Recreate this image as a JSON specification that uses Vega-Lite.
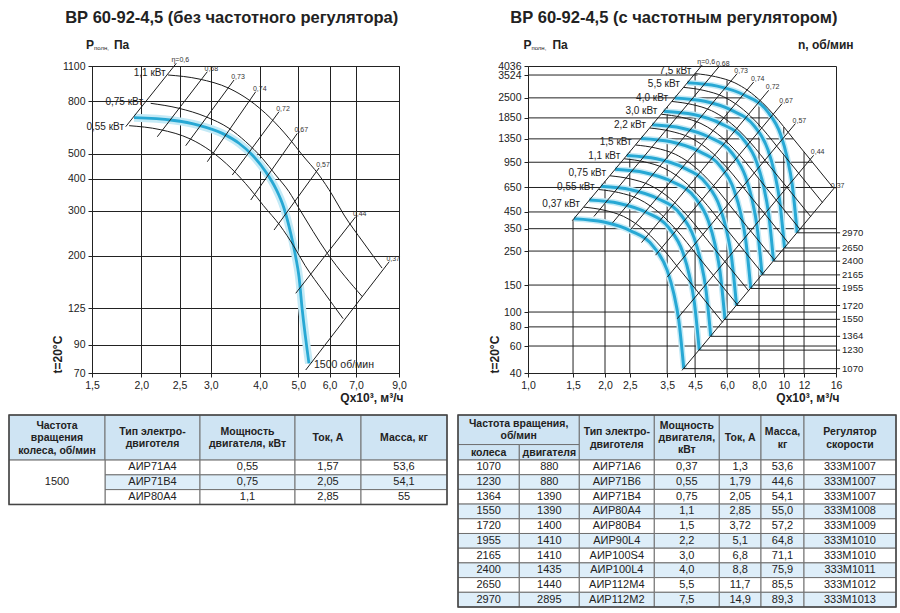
{
"$schema": "https://vega.github.io/schema/vega-lite/v6.json",
"background": "white",
"padding": {"left": 8, "top": 9, "right": 2, "bottom": 2},
"config": {
 "font": "Liberation Sans",
 "view": {"stroke": null},
 "text": {"color": "#222"},
 "axis": {"labelFont": "Liberation Sans", "labelFontSize": 10.5, "labelColor": "#222", "tickColor": "#222", "tickSize": 4, "domainColor": "#222", "gridColor": "#222", "gridOpacity": 1, "gridWidth": 1, "labelPadding": 3, "labelOverlap": false, "labelFlush": false, "labelBound": false, "titleFont": "Liberation Sans", "titleFontSize": 12, "titleFontWeight": "bold", "titleColor": "#222"}
},
"datasets": {
 "lblue": [{"Q":1.917,"P":691.7},{"Q":2.397,"P":676},{"Q":2.801,"P":646},{"Q":3.209,"P":601},{"Q":3.537,"P":550},{"Q":3.822,"P":495},{"Q":4.133,"P":426},{"Q":4.382,"P":367},{"Q":4.6,"P":307},{"Q":4.784,"P":245},{"Q":4.924,"P":198.7},{"Q":5.021,"P":166},{"Q":5.118,"P":123},{"Q":5.322,"P":76.3}],
 "larcs": [
  {"id":"1,1","Q":2.337,"P":1014.6},{"id":"1,1","Q":2.801,"P":978.9},{"id":"1,1","Q":3.337,"P":900.6},{"id":"1,1","Q":3.751,"P":810.7},{"id":"1,1","Q":4.257,"P":688},{"id":"1,1","Q":4.737,"P":575},{"id":"1,1","Q":5.119,"P":494.9},{"id":"1,1","Q":5.643,"P":413.6},{"id":"1,1","Q":6.099,"P":345.7},{"id":"1,1","Q":6.53,"P":288.9},{"id":"1,1","Q":7.296,"P":226.7},{"id":"1,1","Q":8.151,"P":179.5},
  {"id":"0,75","Q":2.113,"P":787},{"id":"0,75","Q":2.493,"P":752.5},{"id":"0,75","Q":2.913,"P":698},{"id":"0,75","Q":3.337,"P":628.9},{"id":"0,75","Q":3.679,"P":557.7},{"id":"0,75","Q":4.053,"P":480.5},{"id":"0,75","Q":4.383,"P":413.6},{"id":"0,75","Q":4.737,"P":356},{"id":"0,75","Q":5.021,"P":306.8},{"id":"0,75","Q":5.924,"P":204.8},{"id":"0,75","Q":7.267,"P":138.8},
  {"id":"0,55","Q":1.863,"P":644},{"id":"0,55","Q":2.232,"P":621.6},{"id":"0,55","Q":2.66,"P":571.9},{"id":"0,55","Q":2.99,"P":514.8},{"id":"0,55","Q":3.393,"P":436.9},{"id":"0,55","Q":3.775,"P":365.1},{"id":"0,55","Q":4.08,"P":314.3},{"id":"0,55","Q":4.497,"P":262.6},{"id":"0,55","Q":4.861,"P":219.5},{"id":"0,55","Q":5.204,"P":183.5},{"id":"0,55","Q":5.815,"P":144},{"id":"0,55","Q":6.496,"P":114}
 ],
 "leta": [
  {"Q":2.4535,"P":1127,"Q2":1.826,"P2":638,"t":"η=0,6"},
  {"Q":2.94,"P":1045,"Q2":2.196,"P2":583,"t":"0,68"},
  {"Q":3.436,"P":970,"Q2":2.592,"P2":538,"t":"0,73"},
  {"Q":3.9,"P":873.5,"Q2":2.94,"P2":466,"t":"0,74"},
  {"Q":4.468,"P":730,"Q2":3.402,"P2":413.6,"t":"0,72"},
  {"Q":4.972,"P":601,"Q2":3.788,"P2":330.5,"t":"0,67"},
  {"Q":5.643,"P":440.4,"Q2":4.34,"P2":252.5,"t":"0,57"},
  {"Q":6.99,"P":284.5,"Q2":4.926,"P2":143.1,"t":"0,44"},
  {"Q":8.5,"P":190,"Q2":5.222,"P2":71.9,"t":"0,37"}
 ],
 "lkw": [{"Q":2.306,"P":1030,"t":"1,1 кВт"},{"Q":2.02,"P":798.5,"t":"0,75 кВт"},{"Q":1.808,"P":638,"t":"0,55 кВт"}],
 "rblue": [
  {"n":1070,"Q":1.512,"P":407},{"n":1070,"Q":1.98,"P":387},{"n":1070,"Q":2.518,"P":339},{"n":1070,"Q":3.104,"P":265.6},{"n":1070,"Q":3.501,"P":187},{"n":1070,"Q":3.716,"P":131.8},{"n":1070,"Q":3.886,"P":88.2},{"n":1070,"Q":4.065,"P":42.7},
  {"n":1230,"Q":1.738,"P":537.8},{"n":1230,"Q":2.276,"P":511.4},{"n":1230,"Q":2.894,"P":448},{"n":1230,"Q":3.568,"P":351},{"n":1230,"Q":4.024,"P":247.1},{"n":1230,"Q":4.272,"P":174.2},{"n":1230,"Q":4.467,"P":116.5},{"n":1230,"Q":4.673,"P":56.4},
  {"n":1364,"Q":1.927,"P":661.4},{"n":1364,"Q":2.524,"P":628.9},{"n":1364,"Q":3.21,"P":550.9},{"n":1364,"Q":3.957,"P":431.6},{"n":1364,"Q":4.463,"P":303.9},{"n":1364,"Q":4.737,"P":214.2},{"n":1364,"Q":4.954,"P":143.3},{"n":1364,"Q":5.182,"P":69.4},
  {"n":1550,"Q":2.19,"P":854.1},{"n":1550,"Q":2.868,"P":812.1},{"n":1550,"Q":3.648,"P":711.4},{"n":1550,"Q":4.497,"P":557.4},{"n":1550,"Q":5.072,"P":392.4},{"n":1550,"Q":5.383,"P":276.6},{"n":1550,"Q":5.629,"P":185.1},{"n":1550,"Q":5.889,"P":89.6},
  {"n":1720,"Q":2.431,"P":1051.7},{"n":1720,"Q":3.183,"P":1000},{"n":1720,"Q":4.048,"P":876},{"n":1720,"Q":4.99,"P":686.3},{"n":1720,"Q":5.628,"P":483.2},{"n":1720,"Q":5.974,"P":340.6},{"n":1720,"Q":6.247,"P":227.9},{"n":1720,"Q":6.535,"P":110.3},
  {"n":1955,"Q":2.763,"P":1358.7},{"n":1955,"Q":3.618,"P":1291.9},{"n":1955,"Q":4.601,"P":1131.7},{"n":1955,"Q":5.671,"P":886.7},{"n":1955,"Q":6.397,"P":624.3},{"n":1955,"Q":6.789,"P":440},{"n":1955,"Q":7.1,"P":294.4},{"n":1955,"Q":7.427,"P":142.5},
  {"n":2165,"Q":3.059,"P":1666.3},{"n":2165,"Q":4.006,"P":1584.4},{"n":2165,"Q":5.095,"P":1387.9},{"n":2165,"Q":6.281,"P":1087.4},{"n":2165,"Q":7.084,"P":765.6},{"n":2165,"Q":7.519,"P":539.6},{"n":2165,"Q":7.863,"P":361.1},{"n":2165,"Q":8.225,"P":174.8},
  {"n":2400,"Q":3.391,"P":2047.7},{"n":2400,"Q":4.441,"P":1947},{"n":2400,"Q":5.648,"P":1705.5},{"n":2400,"Q":6.962,"P":1336.3},{"n":2400,"Q":7.853,"P":940.8},{"n":2400,"Q":8.335,"P":663.1},{"n":2400,"Q":8.716,"P":443.7},{"n":2400,"Q":9.118,"P":214.8},
  {"n":2650,"Q":3.745,"P":2496.4},{"n":2650,"Q":4.904,"P":2373.7},{"n":2650,"Q":6.236,"P":2079.3},{"n":2650,"Q":7.687,"P":1629.1},{"n":2650,"Q":8.671,"P":1147},{"n":2650,"Q":9.203,"P":808.4},{"n":2650,"Q":9.624,"P":541},{"n":2650,"Q":10.067,"P":261.9},
  {"n":2970,"Q":4.197,"P":3135.7},{"n":2970,"Q":5.496,"P":2981.6},{"n":2970,"Q":6.989,"P":2611.8},{"n":2970,"Q":8.616,"P":2046.3},{"n":2970,"Q":9.718,"P":1440.7},{"n":2970,"Q":10.314,"P":1015.5},{"n":2970,"Q":10.786,"P":679.5},{"n":2970,"Q":11.283,"P":329}
 ],
 "rarcs": [
  {"id":"7,5","Q":4.51,"P":3600},{"id":"7,5","Q":5.405,"P":3438},{"id":"7,5","Q":6.44,"P":3132},{"id":"7,5","Q":7.239,"P":2790},{"id":"7,5","Q":8.215,"P":2340},{"id":"7,5","Q":9.142,"P":1937},{"id":"7,5","Q":10.89,"P":1354},{"id":"7,5","Q":15.73,"P":636.8},
  {"id":"5,5","Q":4.067,"P":2927},{"id":"5,5","Q":4.874,"P":2795},{"id":"5,5","Q":5.807,"P":2546},{"id":"5,5","Q":6.528,"P":2268},{"id":"5,5","Q":7.408,"P":1903},{"id":"5,5","Q":8.244,"P":1575},{"id":"5,5","Q":9.821,"P":1101},{"id":"5,5","Q":14.185,"P":517.8},
  {"id":"4,0","Q":3.658,"P":2368},{"id":"4,0","Q":4.384,"P":2261},{"id":"4,0","Q":5.223,"P":2060},{"id":"4,0","Q":5.871,"P":1835},{"id":"4,0","Q":6.663,"P":1539},{"id":"4,0","Q":7.415,"P":1274},{"id":"4,0","Q":8.833,"P":890.4},{"id":"4,0","Q":12.758,"P":418.9},
  {"id":"3,0","Q":3.323,"P":1954},{"id":"3,0","Q":3.983,"P":1866},{"id":"3,0","Q":4.745,"P":1700},{"id":"3,0","Q":5.334,"P":1514},{"id":"3,0","Q":6.053,"P":1270},{"id":"3,0","Q":6.736,"P":1051},{"id":"3,0","Q":8.024,"P":734.7},{"id":"3,0","Q":11.59,"P":345.7},
  {"id":"2,2","Q":2.996,"P":1589},{"id":"2,2","Q":3.591,"P":1517},{"id":"2,2","Q":4.278,"P":1382},{"id":"2,2","Q":4.809,"P":1231},{"id":"2,2","Q":5.458,"P":1033},{"id":"2,2","Q":6.073,"P":854.9},{"id":"2,2","Q":7.234,"P":597.5},{"id":"2,2","Q":10.449,"P":281.1},
  {"id":"1,5","Q":2.637,"P":1231},{"id":"1,5","Q":3.16,"P":1176},{"id":"1,5","Q":3.765,"P":1071},{"id":"1,5","Q":4.233,"P":954},{"id":"1,5","Q":4.804,"P":800.2},{"id":"1,5","Q":5.345,"P":662.3},{"id":"1,5","Q":6.368,"P":462.9},{"id":"1,5","Q":9.197,"P":217.8},
  {"id":"1,1","Q":2.378,"P":1001},{"id":"1,1","Q":2.85,"P":956},{"id":"1,1","Q":3.396,"P":870.9},{"id":"1,1","Q":3.817,"P":775.8},{"id":"1,1","Q":4.332,"P":650.7},{"id":"1,1","Q":4.82,"P":538.5},{"id":"1,1","Q":5.742,"P":376.4},{"id":"1,1","Q":8.294,"P":177.1},
  {"id":"0,75","Q":2.093,"P":775},{"id":"0,75","Q":2.508,"P":740.1},{"id":"0,75","Q":2.989,"P":674.3},{"id":"0,75","Q":3.359,"P":600.6},{"id":"0,75","Q":3.813,"P":503.8},{"id":"0,75","Q":4.243,"P":417},{"id":"0,75","Q":5.054,"P":291.4},{"id":"0,75","Q":7.3,"P":137.1},
  {"id":"0,55","Q":1.888,"P":630.6},{"id":"0,55","Q":2.263,"P":602.2},{"id":"0,55","Q":2.696,"P":548.6},{"id":"0,55","Q":3.03,"P":488.7},{"id":"0,55","Q":3.439,"P":409.9},{"id":"0,55","Q":3.827,"P":339.3},{"id":"0,55","Q":4.559,"P":237.1},{"id":"0,55","Q":6.585,"P":111.6},
  {"id":"0,37","Q":1.654,"P":484},{"id":"0,37","Q":1.982,"P":462.2},{"id":"0,37","Q":2.362,"P":421.1},{"id":"0,37","Q":2.655,"P":375.1},{"id":"0,37","Q":3.013,"P":314.6},{"id":"0,37","Q":3.353,"P":260.4},{"id":"0,37","Q":3.994,"P":182},{"id":"0,37","Q":5.769,"P":85.6}
 ],
 "rkw": [{"Q":4.51,"P":3600,"t":"7,5 кВт"},{"Q":4.067,"P":2927,"t":"5,5 кВт"},{"Q":3.658,"P":2368,"t":"4,0 кВт"},{"Q":3.323,"P":1954,"t":"3,0 кВт"},{"Q":2.996,"P":1589,"t":"2,2 кВт"},{"Q":2.637,"P":1231,"t":"1,5 кВт"},{"Q":2.378,"P":1001,"t":"1,1 кВт"},{"Q":2.093,"P":775,"t":"0,75 кВт"},{"Q":1.888,"P":630.6,"t":"0,55 кВт"},{"Q":1.654,"P":484,"t":"0,37 кВт"}],
 "reta": [
  {"Q":4.797,"P":4096,"Q2":1.4906,"P2":395.5,"t":"η=0,6"},
  {"Q":5.568,"P":3976,"Q2":1.81,"P2":420.3,"t":"0,68"},
  {"Q":6.57,"P":3600,"Q2":2.1415,"P2":382.5,"t":"0,73"},
  {"Q":7.627,"P":3173,"Q2":2.5176,"P2":345.7,"t":"0,74"},
  {"Q":8.728,"P":2801,"Q2":2.779,"P2":284,"t":"0,72"},
  {"Q":9.847,"P":2293,"Q2":3.152,"P2":235,"t":"0,67"},
  {"Q":11.1,"P":1698,"Q2":3.501,"P2":168.9,"t":"0,57"},
  {"Q":13.08,"P":1054,"Q2":3.831,"P2":90.4,"t":"0,44"},
  {"Q":15.66,"P":637.6,"Q2":4.0,"P2":41.6,"t":"0,37"}
 ],
 "rgrid": [
  {"Q":1,"Q2":4.6,"P":3524,"P2":3524},{"Q":1,"Q2":7.83,"P":2500,"P2":2500},{"Q":1,"Q2":9.35,"P":1850,"P2":1850},{"Q":1,"Q2":10.91,"P":1350,"P2":1350},{"Q":1,"Q2":12.94,"P":950,"P2":950},{"Q":1,"Q2":16,"P":650,"P2":650},{"Q":1,"Q2":16,"P":450,"P2":450},{"Q":1,"Q2":16,"P":350,"P2":350},{"Q":1,"Q2":16,"P":250,"P2":250},{"Q":1,"Q2":16,"P":150,"P2":150},{"Q":1,"Q2":16,"P":100,"P2":100},{"Q":1,"Q2":16,"P":80,"P2":80},{"Q":1,"Q2":16,"P":60,"P2":60},
  {"Q":1.5,"Q2":1.5,"P":40,"P2":400},{"Q":2,"Q2":2,"P":40,"P2":712},{"Q":2.5,"Q2":2.5,"P":40,"P2":1112},{"Q":3.5,"Q2":3.5,"P":40,"P2":2180},{"Q":4.5,"Q2":4.5,"P":40,"P2":3604},{"Q":6,"Q2":6,"P":40,"P2":3253},{"Q":8,"Q2":8,"P":40,"P2":2428},{"Q":10,"Q2":10,"P":40,"P2":1612},{"Q":12,"Q2":12,"P":40,"P2":1110}
 ],
 "rn": [
  {"Q":16.6,"Q0":4.065,"P":42.7,"t":"1070"},{"Q":16.6,"Q0":4.673,"P":56.4,"t":"1230"},{"Q":16.6,"Q0":5.182,"P":69.4,"t":"1364"},{"Q":16.6,"Q0":5.889,"P":89.6,"t":"1550"},{"Q":16.6,"Q0":6.535,"P":110.3,"t":"1720"},{"Q":16.6,"Q0":7.427,"P":142.5,"t":"1955"},{"Q":16.6,"Q0":8.225,"P":174.8,"t":"2165"},{"Q":16.6,"Q0":9.118,"P":214.8,"t":"2400"},{"Q":16.6,"Q0":10.067,"P":261.9,"t":"2650"},{"Q":16.6,"Q0":11.283,"P":329,"t":"2970"}
 ],
 "ltcols": [{"c":"c0","x0":0,"x1":96,"xm":48},{"c":"c1","x0":96,"x1":191,"xm":143.5},{"c":"c2","x0":191,"x1":286,"xm":238.5},{"c":"c3","x0":286,"x1":352,"xm":319},{"c":"c4","x0":352,"x1":438,"xm":395}],
 "lthead": [
  {"c":"c0","r0":-3.05,"r1":0,"ym":-2.33,"t":"Частота\nвращения\nколеса, об/мин"},
  {"c":"c1","r0":-3.05,"r1":0,"ym":-1.9,"t":"Тип электро-\nдвиготеля"},
  {"c":"c2","r0":-3.05,"r1":0,"ym":-1.9,"t":"Мощность\nдвигателя, кВт"},
  {"c":"c3","r0":-3.05,"r1":0,"ym":-1.48,"t":"Ток, А"},
  {"c":"c4","r0":-3.05,"r1":0,"ym":-1.48,"t":"Масса, кг"}
 ],
 "ltmerged": [{"c":"c0","r0":0,"r1":3,"ym":1.5,"t":"1500"}],
 "ltrows": [
  {"r0":0,"r1":1,"ym":0.5,"k":"w","c1":"АИР71А4","c2":"0,55","c3":"1,57","c4":"53,6"},
  {"r0":1,"r1":2,"ym":1.5,"k":"b","c1":"АИР71В4","c2":"0,75","c3":"2,05","c4":"54,1"},
  {"r0":2,"r1":3,"ym":2.5,"k":"w","c1":"АИР80А4","c2":"1,1","c3":"2,85","c4":"55"}
 ],
 "rtcols": [{"c":"c0","x0":0,"x1":61.3,"xm":30.65},{"c":"c1","x0":61.3,"x1":121.3,"xm":91.3},{"c":"c01","x0":0,"x1":121.3,"xm":60.65},{"c":"c2","x0":121.3,"x1":196.3,"xm":158.8},{"c":"c3","x0":196.3,"x1":261.3,"xm":228.8},{"c":"c4","x0":261.3,"x1":303,"xm":282.15},{"c":"c5","x0":303,"x1":346,"xm":324.5},{"c":"c6","x0":346,"x1":438,"xm":392}],
 "rthead": [
  {"c":"c01","r0":-3.06,"r1":-1.05,"ym":-2.43,"t":"Частота вращения,\nоб/мин"},
  {"c":"c0","r0":-1.05,"r1":0,"ym":-0.5,"t":"колеса"},
  {"c":"c1","r0":-1.05,"r1":0,"ym":-0.5,"t":"двигателя"},
  {"c":"c2","r0":-3.06,"r1":0,"ym":-1.87,"t":"Тип электро-\nдвиготеля"},
  {"c":"c3","r0":-3.06,"r1":0,"ym":-2.33,"t":"Мощность\nдвигателя,\nкВт"},
  {"c":"c4","r0":-3.06,"r1":0,"ym":-1.5,"t":"Ток, А"},
  {"c":"c5","r0":-3.06,"r1":0,"ym":-1.88,"t":"Масса,\nкг"},
  {"c":"c6","r0":-3.06,"r1":0,"ym":-1.88,"t":"Регулятор\nскорости"}
 ],
 "rtrows": [
  {"r0":0,"r1":1,"ym":0.5,"k":"w","c0":"1070","c1":"880","c2":"АИР71А6","c3":"0,37","c4":"1,3","c5":"53,6","c6":"333М1007"},
  {"r0":1,"r1":2,"ym":1.5,"k":"b","c0":"1230","c1":"880","c2":"АИР71В6","c3":"0,55","c4":"1,79","c5":"44,6","c6":"333М1007"},
  {"r0":2,"r1":3,"ym":2.5,"k":"w","c0":"1364","c1":"1390","c2":"АИР71В4","c3":"0,75","c4":"2,05","c5":"54,1","c6":"333М1007"},
  {"r0":3,"r1":4,"ym":3.5,"k":"b","c0":"1550","c1":"1390","c2":"АИР80А4","c3":"1,1","c4":"2,85","c5":"55,0","c6":"333М1008"},
  {"r0":4,"r1":5,"ym":4.5,"k":"w","c0":"1720","c1":"1400","c2":"АИР80В4","c3":"1,5","c4":"3,72","c5":"57,2","c6":"333М1009"},
  {"r0":5,"r1":6,"ym":5.5,"k":"b","c0":"1955","c1":"1410","c2":"АИР90L4","c3":"2,2","c4":"5,1","c5":"64,8","c6":"333М1010"},
  {"r0":6,"r1":7,"ym":6.5,"k":"w","c0":"2165","c1":"1410","c2":"АИР100S4","c3":"3,0","c4":"6,8","c5":"71,1","c6":"333М1010"},
  {"r0":7,"r1":8,"ym":7.5,"k":"b","c0":"2400","c1":"1435","c2":"АИР100L4","c3":"4,0","c4":"8,8","c5":"75,9","c6":"333М1011"},
  {"r0":8,"r1":9,"ym":8.5,"k":"w","c0":"2650","c1":"1440","c2":"АИР112М4","c3":"5,5","c4":"11,7","c5":"85,5","c6":"333М1012"},
  {"r0":9,"r1":10,"ym":9.5,"k":"b","c0":"2970","c1":"2895","c2":"АИР112М2","c3":"7,5","c4":"14,9","c5":"89,3","c6":"333М1013"}
 ]
},
"bounds": "flush",
"columns": 2,
"spacing": {"row": 42, "column": 129},
"concat": [
  {
   "width": 307, "height": 307,
   "view": {"stroke": "#222", "strokeWidth": 1},
   "encoding": {
    "x": {"field": "Q", "type": "quantitative", "scale": {"type": "log", "domain": [1.5, 9], "nice": false},
     "axis": {"values": [1.5, 2, 2.5, 3, 4, 5, 6, 7, 9], "labelExpr": "replace(format(datum.value, '.1f'), '.', ',')", "grid": true, "title": "Qx10³, м³/ч", "titleX": 311, "titleY": 24, "titleAlign": "right", "titleBaseline": "middle"}},
    "y": {"field": "P", "type": "quantitative", "scale": {"type": "log", "domain": [70, 1100], "nice": false},
     "axis": {"values": [70, 90, 125, 200, 300, 400, 500, 800, 1100], "format": "d", "grid": true, "title": "t=20°C", "titleX": -35, "titleY": 307, "titleAngle": 270, "titleAlign": "left", "titleBaseline": "middle"}}
   },
   "layer": [
    {"data": {"name": "lblue"}, "mark": {"type": "line", "interpolate": "monotone", "color": "#c4eaf6", "strokeWidth": 8}},
    {"data": {"name": "lblue"}, "mark": {"type": "line", "interpolate": "monotone", "color": "#27a8d4", "strokeWidth": 2.8}},
    {"data": {"name": "larcs"}, "mark": {"type": "line", "interpolate": "monotone", "color": "#1c1c1c", "strokeWidth": 1}, "encoding": {"detail": {"field": "id", "type": "nominal"}}},
    {"data": {"name": "leta"}, "mark": {"type": "rule", "color": "#1c1c1c", "strokeWidth": 1}, "encoding": {"x2": {"field": "Q2"}, "y2": {"field": "P2"}}},
    {"data": {"name": "leta"}, "mark": {"type": "text", "fontSize": 7, "align": "center", "baseline": "bottom", "dx": 4, "color": "#333"}, "encoding": {"text": {"field": "t", "type": "nominal"}}},
    {"data": {"name": "lkw"}, "mark": {"type": "text", "fontSize": 10, "align": "right", "baseline": "middle"}, "encoding": {"text": {"field": "t", "type": "nominal"}}},
    {"data": {"values": [{"Q": 5.481, "P": 75.2, "t": "1500 об/мин"}]}, "mark": {"type": "text", "fontSize": 10.5, "align": "left", "baseline": "middle"}, "encoding": {"text": {"field": "t", "type": "nominal"}}},
    {"data": {"values": [{"Q": 3.39, "P": 1622, "t": "ВР 60-92-4,5 (без частотного регулятора)"}]}, "mark": {"type": "text", "fontSize": 16.5, "fontWeight": "bold", "align": "center", "baseline": "alphabetic"}, "encoding": {"text": {"field": "t", "type": "nominal"}}},
    {"data": {"values": [{"Q": 1.448, "P": 1328, "t": "P"}]}, "mark": {"type": "text", "fontSize": 12, "fontWeight": "bold", "align": "left", "baseline": "middle"}, "encoding": {"text": {"field": "t", "type": "nominal"}}},
    {"data": {"values": [{"Q": 1.448, "P": 1328, "t": "полн,"}]}, "mark": {"type": "text", "fontSize": 6, "align": "left", "baseline": "middle", "dx": 8, "dy": 3}, "encoding": {"text": {"field": "t", "type": "nominal"}}},
    {"data": {"values": [{"Q": 1.448, "P": 1328, "t": "Па"}]}, "mark": {"type": "text", "fontSize": 12, "fontWeight": "bold", "align": "left", "baseline": "middle", "dx": 28}, "encoding": {"text": {"field": "t", "type": "nominal"}}}
   ]
  },
  {
   "width": 308, "height": 307,
   "view": {"stroke": "#222", "strokeWidth": 1},
   "encoding": {
    "x": {"field": "Q", "type": "quantitative", "scale": {"type": "log", "domain": [1, 16], "nice": false},
     "axis": {"values": [1, 1.5, 2, 2.5, 3.5, 4.5, 6, 8, 10, 12, 16], "labelExpr": "datum.value >= 10 ? format(datum.value, 'd') : replace(format(datum.value, '.1f'), '.', ',')", "grid": false, "title": "Qx10³, м³/ч", "titleX": 311, "titleY": 24, "titleAlign": "right", "titleBaseline": "middle"}},
    "y": {"field": "P", "type": "quantitative", "scale": {"type": "log", "domain": [40, 4036], "nice": false},
     "axis": {"values": [40, 60, 80, 100, 150, 250, 350, 450, 650, 950, 1350, 1850, 2500, 3524, 4036], "format": "d", "grid": false, "title": "t=20°C", "titleX": -34, "titleY": 307, "titleAngle": 270, "titleAlign": "left", "titleBaseline": "middle"}}
   },
   "layer": [
    {"data": {"name": "rgrid"}, "mark": {"type": "rule", "color": "#222", "strokeWidth": 1}, "encoding": {"x2": {"field": "Q2"}, "y2": {"field": "P2"}}},
    {"data": {"name": "rblue"}, "mark": {"type": "line", "interpolate": "monotone", "color": "#c4eaf6", "strokeWidth": 6}, "encoding": {"detail": {"field": "n", "type": "nominal"}}},
    {"data": {"name": "rblue"}, "mark": {"type": "line", "interpolate": "monotone", "color": "#27a8d4", "strokeWidth": 3}, "encoding": {"detail": {"field": "n", "type": "nominal"}}},
    {"data": {"name": "rarcs"}, "mark": {"type": "line", "interpolate": "monotone", "color": "#1c1c1c", "strokeWidth": 1}, "encoding": {"detail": {"field": "id", "type": "nominal"}}},
    {"data": {"name": "reta"}, "mark": {"type": "rule", "color": "#1c1c1c", "strokeWidth": 1}, "encoding": {"x2": {"field": "Q2"}, "y2": {"field": "P2"}}},
    {"data": {"name": "rn"}, "mark": {"type": "rule", "color": "#222", "strokeWidth": 1}, "encoding": {"x2": {"field": "Q0"}}},
    {"data": {"name": "rn"}, "mark": {"type": "text", "fontSize": 9.5, "align": "left", "baseline": "middle", "dx": 2}, "encoding": {"text": {"field": "t", "type": "nominal"}}},
    {"data": {"name": "reta"}, "mark": {"type": "text", "fontSize": 7, "align": "center", "baseline": "bottom", "dx": 4, "color": "#333"}, "encoding": {"text": {"field": "t", "type": "nominal"}}},
    {"data": {"name": "rkw"}, "mark": {"type": "text", "fontSize": 10, "align": "right", "baseline": "middle", "dx": -4, "dy": -3}, "encoding": {"text": {"field": "t", "type": "nominal"}}},
    {"data": {"values": [{"Q": 3.716, "P": 7703, "t": "ВР 60-92-4,5 (с частотным регулятором)"}]}, "mark": {"type": "text", "fontSize": 16.5, "fontWeight": "bold", "align": "center", "baseline": "alphabetic"}, "encoding": {"text": {"field": "t", "type": "nominal"}}},
    {"data": {"values": [{"Q": 0.9595, "P": 5511, "t": "P"}]}, "mark": {"type": "text", "fontSize": 12, "fontWeight": "bold", "align": "left", "baseline": "middle"}, "encoding": {"text": {"field": "t", "type": "nominal"}}},
    {"data": {"values": [{"Q": 0.9595, "P": 5511, "t": "полн,"}]}, "mark": {"type": "text", "fontSize": 6, "align": "left", "baseline": "middle", "dx": 8, "dy": 3}, "encoding": {"text": {"field": "t", "type": "nominal"}}},
    {"data": {"values": [{"Q": 0.9595, "P": 5511, "t": "Па"}]}, "mark": {"type": "text", "fontSize": 12, "fontWeight": "bold", "align": "left", "baseline": "middle", "dx": 29}, "encoding": {"text": {"field": "t", "type": "nominal"}}},
    {"data": {"values": [{"Q": 18.74, "P": 5511, "t": "n, об/мин"}]}, "mark": {"type": "text", "fontSize": 12, "fontWeight": "bold", "align": "right", "baseline": "middle"}, "encoding": {"text": {"field": "t", "type": "nominal"}}}
   ]
  },
  {
   "width": 307, "height": 89.4,
   "view": {"stroke": null},
   "layer": [
    {"data": {"name": "lthead"}, "transform": [{"lookup": "c", "from": {"data": {"name": "ltcols"}, "key": "c", "fields": ["x0", "x1", "xm"]}}],
     "mark": {"type": "rect", "fill": "#cfe4f3", "stroke": "#707070", "strokeWidth": 1},
     "encoding": {"x": {"field": "x0", "type": "quantitative", "scale": {"domain": [0, 438], "range": [-83, 355], "nice": false, "zero": false}, "axis": null}, "x2": {"field": "x1"},
      "y": {"field": "r0", "type": "quantitative", "scale": {"domain": [-3.05, 3], "reverse": true, "nice": false, "zero": false}, "axis": null}, "y2": {"field": "r1"}}},
    {"data": {"name": "ltrows"}, "transform": [{"fold": ["c1", "c2", "c3", "c4"], "as": ["c", "t"]}, {"lookup": "c", "from": {"data": {"name": "ltcols"}, "key": "c", "fields": ["x0", "x1", "xm"]}}],
     "mark": {"type": "rect", "stroke": "#707070", "strokeWidth": 1},
     "encoding": {"x": {"field": "x0", "type": "quantitative", "scale": {"domain": [0, 438], "range": [-83, 355], "nice": false, "zero": false}, "axis": null}, "x2": {"field": "x1"},
      "y": {"field": "r0", "type": "quantitative", "scale": {"domain": [-3.05, 3], "reverse": true, "nice": false, "zero": false}, "axis": null}, "y2": {"field": "r1"},
      "fill": {"field": "k", "type": "nominal", "scale": {"domain": ["w", "b"], "range": ["#ffffff", "#deeef9"]}, "legend": null}}},
    {"data": {"name": "ltmerged"}, "transform": [{"lookup": "c", "from": {"data": {"name": "ltcols"}, "key": "c", "fields": ["x0", "x1", "xm"]}}],
     "mark": {"type": "rect", "fill": "#ffffff", "stroke": "#707070", "strokeWidth": 1},
     "encoding": {"x": {"field": "x0", "type": "quantitative", "scale": {"domain": [0, 438], "range": [-83, 355], "nice": false, "zero": false}, "axis": null}, "x2": {"field": "x1"},
      "y": {"field": "r0", "type": "quantitative", "scale": {"domain": [-3.05, 3], "reverse": true, "nice": false, "zero": false}, "axis": null}, "y2": {"field": "r1"}}},
    {"data": {"values": [{"x0": 0, "x1": 438, "r0": -3.05, "r1": 3}]},
     "mark": {"type": "rect", "fill": "#ffffff", "fillOpacity": 0, "stroke": "#444", "strokeWidth": 1.5},
     "encoding": {"x": {"field": "x0", "type": "quantitative", "scale": {"domain": [0, 438], "range": [-83, 355], "nice": false, "zero": false}, "axis": null}, "x2": {"field": "x1"},
      "y": {"field": "r0", "type": "quantitative", "scale": {"domain": [-3.05, 3], "reverse": true, "nice": false, "zero": false}, "axis": null}, "y2": {"field": "r1"}}},
    {"data": {"name": "lthead"}, "transform": [{"lookup": "c", "from": {"data": {"name": "ltcols"}, "key": "c", "fields": ["x0", "x1", "xm"]}}],
     "mark": {"type": "text", "fontSize": 10.5, "fontWeight": "bold", "lineBreak": "\n", "lineHeight": 12.5, "align": "center", "baseline": "middle"},
     "encoding": {"x": {"field": "xm", "type": "quantitative", "scale": {"domain": [0, 438], "range": [-83, 355], "nice": false, "zero": false}, "axis": null},
      "y": {"field": "ym", "type": "quantitative", "scale": {"domain": [-3.05, 3], "reverse": true, "nice": false, "zero": false}, "axis": null}, "text": {"field": "t", "type": "nominal"}}},
    {"data": {"name": "ltrows"}, "transform": [{"fold": ["c1", "c2", "c3", "c4"], "as": ["c", "t"]}, {"lookup": "c", "from": {"data": {"name": "ltcols"}, "key": "c", "fields": ["x0", "x1", "xm"]}}],
     "mark": {"type": "text", "fontSize": 11, "align": "center", "baseline": "middle"},
     "encoding": {"x": {"field": "xm", "type": "quantitative", "scale": {"domain": [0, 438], "range": [-83, 355], "nice": false, "zero": false}, "axis": null},
      "y": {"field": "ym", "type": "quantitative", "scale": {"domain": [-3.05, 3], "reverse": true, "nice": false, "zero": false}, "axis": null}, "text": {"field": "t", "type": "nominal"}}},
    {"data": {"name": "ltmerged"}, "transform": [{"lookup": "c", "from": {"data": {"name": "ltcols"}, "key": "c", "fields": ["x0", "x1", "xm"]}}],
     "mark": {"type": "text", "fontSize": 11, "align": "center", "baseline": "middle"},
     "encoding": {"x": {"field": "xm", "type": "quantitative", "scale": {"domain": [0, 438], "range": [-83, 355], "nice": false, "zero": false}, "axis": null},
      "y": {"field": "ym", "type": "quantitative", "scale": {"domain": [-3.05, 3], "reverse": true, "nice": false, "zero": false}, "axis": null}, "text": {"field": "t", "type": "nominal"}}}
   ]
  },
  {
   "width": 308, "height": 192,
   "view": {"stroke": null},
   "layer": [
    {"data": {"name": "rthead"}, "transform": [{"lookup": "c", "from": {"data": {"name": "rtcols"}, "key": "c", "fields": ["x0", "x1", "xm"]}}],
     "mark": {"type": "rect", "fill": "#cfe4f3", "stroke": "#707070", "strokeWidth": 1},
     "encoding": {"x": {"field": "x0", "type": "quantitative", "scale": {"domain": [0, 438], "range": [-70, 368], "nice": false, "zero": false}, "axis": null}, "x2": {"field": "x1"},
      "y": {"field": "r0", "type": "quantitative", "scale": {"domain": [-3.06, 10], "reverse": true, "nice": false, "zero": false}, "axis": null}, "y2": {"field": "r1"}}},
    {"data": {"name": "rtrows"}, "transform": [{"fold": ["c0", "c1", "c2", "c3", "c4", "c5", "c6"], "as": ["c", "t"]}, {"lookup": "c", "from": {"data": {"name": "rtcols"}, "key": "c", "fields": ["x0", "x1", "xm"]}}],
     "mark": {"type": "rect", "stroke": "#707070", "strokeWidth": 1},
     "encoding": {"x": {"field": "x0", "type": "quantitative", "scale": {"domain": [0, 438], "range": [-70, 368], "nice": false, "zero": false}, "axis": null}, "x2": {"field": "x1"},
      "y": {"field": "r0", "type": "quantitative", "scale": {"domain": [-3.06, 10], "reverse": true, "nice": false, "zero": false}, "axis": null}, "y2": {"field": "r1"},
      "fill": {"field": "k", "type": "nominal", "scale": {"domain": ["w", "b"], "range": ["#ffffff", "#deeef9"]}, "legend": null}}},
    {"data": {"values": [{"x0": 0, "x1": 438, "r0": -3.06, "r1": 10}]},
     "mark": {"type": "rect", "fill": "#ffffff", "fillOpacity": 0, "stroke": "#444", "strokeWidth": 1.5},
     "encoding": {"x": {"field": "x0", "type": "quantitative", "scale": {"domain": [0, 438], "range": [-70, 368], "nice": false, "zero": false}, "axis": null}, "x2": {"field": "x1"},
      "y": {"field": "r0", "type": "quantitative", "scale": {"domain": [-3.06, 10], "reverse": true, "nice": false, "zero": false}, "axis": null}, "y2": {"field": "r1"}}},
    {"data": {"name": "rthead"}, "transform": [{"lookup": "c", "from": {"data": {"name": "rtcols"}, "key": "c", "fields": ["x0", "x1", "xm"]}}],
     "mark": {"type": "text", "fontSize": 10.5, "fontWeight": "bold", "lineBreak": "\n", "lineHeight": 12.2, "align": "center", "baseline": "middle"},
     "encoding": {"x": {"field": "xm", "type": "quantitative", "scale": {"domain": [0, 438], "range": [-70, 368], "nice": false, "zero": false}, "axis": null},
      "y": {"field": "ym", "type": "quantitative", "scale": {"domain": [-3.06, 10], "reverse": true, "nice": false, "zero": false}, "axis": null}, "text": {"field": "t", "type": "nominal"}}},
    {"data": {"name": "rtrows"}, "transform": [{"fold": ["c0", "c1", "c2", "c3", "c4", "c5", "c6"], "as": ["c", "t"]}, {"lookup": "c", "from": {"data": {"name": "rtcols"}, "key": "c", "fields": ["x0", "x1", "xm"]}}],
     "mark": {"type": "text", "fontSize": 11, "align": "center", "baseline": "middle"},
     "encoding": {"x": {"field": "xm", "type": "quantitative", "scale": {"domain": [0, 438], "range": [-70, 368], "nice": false, "zero": false}, "axis": null},
      "y": {"field": "ym", "type": "quantitative", "scale": {"domain": [-3.06, 10], "reverse": true, "nice": false, "zero": false}, "axis": null}, "text": {"field": "t", "type": "nominal"}}}
   ]
  }
]
}
